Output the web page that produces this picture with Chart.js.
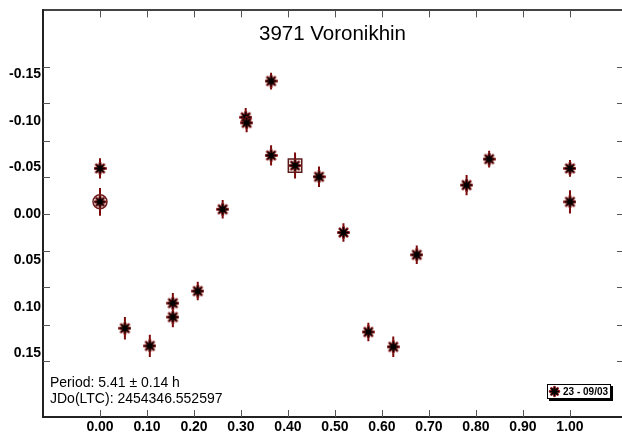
<!DOCTYPE html>
<html>
<head>
<meta charset="utf-8">
<script src="https://cdn.jsdelivr.net/npm/chart.js@4.4.0/dist/chart.umd.min.js"></script>
<style>
  html, body { margin: 0; padding: 0; background: #fff; overflow: hidden; }
  canvas { display: block; }
</style>
</head>
<body>
<canvas id="lcChart" width="622" height="435"></canvas>
<script>
var plotTitle = "3971 Voronikhin";
var periodText = "Period: 5.41 \u00b1 0.14 h";
var epochText = "JDo(LTC): 2454346.552597";
var sessionLabel = "23 - 09/03";

// phased lightcurve, session 23 (09/03)
var phase = [0.000, 0.000, 0.053, 0.106, 0.155, 0.155, 0.208, 0.261, 0.310, 0.312, 0.364,
             0.364, 0.415, 0.466, 0.518, 0.571, 0.624, 0.674, 0.780, 0.828, 1.000, 1.000];
var mag = [-0.049, -0.013, 0.123, 0.142, 0.096, 0.111, 0.083, -0.005, -0.104, -0.098, -0.143,
           -0.063, -0.052, -0.040, 0.020, 0.127, 0.143, 0.044, -0.031, -0.059, -0.049, -0.013];
var magErr = [0.011, 0.015, 0.012, 0.012, 0.011, 0.011, 0.010, 0.010, 0.010, 0.010, 0.009,
              0.011, 0.014, 0.011, 0.010, 0.010, 0.011, 0.010, 0.011, 0.009, 0.009, 0.0125];
var circledPoint = 1;
var boxedPoint = 12;

var xTicks = [0.0, 0.1, 0.2, 0.3, 0.4, 0.5, 0.6, 0.7, 0.8, 0.9, 1.0];
var yLabels = [-0.15, -0.10, -0.05, 0.00, 0.05, 0.10, 0.15];
var yTickMarks = [-0.158, -0.119, -0.079, -0.0395, 0, 0.0395, 0.079, 0.119, 0.158];

var FONT = 'Arial, "Liberation Sans", sans-serif';
var points = phase.map(function(p, i){ return {x: p, y: mag[i]}; });

// asterisk marker: dark red rim under a black star
function makeStar(size) {
  var c = document.createElement('canvas');
  c.width = 13; c.height = 13;
  var g = c.getContext('2d');
  function arms(r, w, col) {
    g.strokeStyle = col; g.lineWidth = w; g.lineCap = 'round';
    g.beginPath();
    for (var k = 0; k < 4; k++) {
      var ang = k * Math.PI / 4;
      g.moveTo(6.5 - r * Math.cos(ang), 6.5 - r * Math.sin(ang));
      g.lineTo(6.5 + r * Math.cos(ang), 6.5 + r * Math.sin(ang));
    }
    g.stroke();
  }
  arms(size, 2.8, '#8b1a1a');
  arms(size - 0.6, 1.6, '#000');
  g.fillStyle = '#000';
  g.beginPath(); g.arc(6.5, 6.5, size / 2, 0, Math.PI * 2); g.fill();
  return c;
}
var starImg = makeStar(5.2);
var keyStarImg = makeStar(4.4);

var errorBars = {
  id: 'errorBars',
  beforeDatasetsDraw: function(chart) {
    var ctx = chart.ctx, xs = chart.scales.x, ys = chart.scales.y;
    ctx.save();
    ctx.strokeStyle = '#7d0a0a';
    ctx.lineWidth = 2;
    ctx.beginPath();
    points.forEach(function(pt, i){
      var px = xs.getPixelForValue(pt.x);
      ctx.moveTo(px, ys.getPixelForValue(pt.y - magErr[i]));
      ctx.lineTo(px, ys.getPixelForValue(pt.y + magErr[i]));
    });
    ctx.stroke();
    ctx.restore();
  }
};

var frameTicks = {
  id: 'frameTicks',
  afterDatasetsDraw: function(chart) {
    var ctx = chart.ctx, a = chart.chartArea, xs = chart.scales.x, ys = chart.scales.y;
    ctx.save();
    ctx.strokeStyle = '#555';
    ctx.lineWidth = 1;
    ctx.beginPath();
    xTicks.forEach(function(v){
      var px = Math.round(xs.getPixelForValue(v)) + 0.5;
      ctx.moveTo(px, a.top); ctx.lineTo(px, a.top + 7);
      ctx.moveTo(px, a.bottom); ctx.lineTo(px, a.bottom - 7);
    });
    yTickMarks.forEach(function(v){
      var py = Math.round(ys.getPixelForValue(v)) + 0.5;
      ctx.moveTo(a.left, py); ctx.lineTo(a.left + 7, py);
      ctx.moveTo(a.right, py); ctx.lineTo(a.right - 5, py);
    });
    ctx.stroke();
    ctx.restore();
  }
};

var annotations = {
  id: 'annotations',
  afterDraw: function(chart) {
    var ctx = chart.ctx, a = chart.chartArea;
    ctx.save();
    ctx.fillStyle = '#000';
    ctx.textBaseline = 'middle';

    ctx.font = '20.5px ' + FONT;
    ctx.textAlign = 'center';
    ctx.fillText(plotTitle, (a.left + a.right) / 2, a.top + 24);

    ctx.font = '14px ' + FONT;
    ctx.textAlign = 'left';
    ctx.fillText(periodText, a.left + 7, a.bottom - 34);
    ctx.fillText(epochText, a.left + 7, a.bottom - 18);

    // session key with drop shadow
    var bx = a.right - 75, by = a.bottom - 33, bw = 64, bh = 15;
    ctx.fillStyle = '#000';
    ctx.fillRect(bx + 2, by + 2, bw, bh);
    ctx.fillStyle = '#fff';
    ctx.fillRect(bx, by, bw, bh);
    ctx.strokeStyle = '#000';
    ctx.lineWidth = 1;
    ctx.strokeRect(bx + 0.5, by + 0.5, bw - 1, bh - 1);
    ctx.drawImage(keyStarImg, bx + 1, by + 1);

    ctx.fillStyle = '#000';
    ctx.font = 'bold 10px ' + FONT;
    ctx.fillText(sessionLabel, bx + 16, by + 8);
    ctx.restore();
  }
};

var tickFont = {family: FONT, size: 14, weight: 'bold'};

new Chart(document.getElementById('lcChart').getContext('2d'), {
  type: 'scatter',
  data: {
    datasets: [
      {
        label: sessionLabel,
        data: points,
        pointStyle: starImg
      },
      {
        data: [points[circledPoint]],
        pointStyle: 'circle',
        radius: 7,
        borderWidth: 1.5,
        borderColor: '#6b1f1f',
        backgroundColor: 'rgba(0,0,0,0)'
      },
      {
        data: [points[boxedPoint]],
        pointStyle: 'rect',
        radius: 9.5,
        borderWidth: 1.5,
        borderColor: '#5a1a1a',
        backgroundColor: 'rgba(0,0,0,0)'
      }
    ]
  },
  options: {
    responsive: false,
    animation: false,
    events: [],
    layout: {padding: 0, autoPadding: false},
    plugins: {legend: {display: false}, tooltip: {enabled: false}},
    scales: {
      x: {
        type: 'linear',
        position: 'bottom',
        min: -0.1213,
        max: 1.1107,
        afterBuildTicks: function(axis){ axis.ticks = xTicks.map(function(v){ return {value: v}; }); },
        afterFit: function(axis){ axis.height = 18; },
        ticks: {
          font: tickFont,
          color: '#000',
          padding: 2,
          maxRotation: 0,
          autoSkip: false,
          callback: function(v){ return v.toFixed(2); }
        },
        grid: {display: false, drawTicks: false},
        border: {display: true, width: 2, color: '#222'}
      },
      xTop: {
        type: 'linear',
        position: 'top',
        min: -0.1213,
        max: 1.1107,
        afterFit: function(axis){ axis.height = 7; },
        ticks: {display: false},
        grid: {display: false, drawTicks: false},
        border: {display: true, width: 2, color: '#444'}
      },
      y: {
        type: 'linear',
        position: 'left',
        reverse: true,
        min: -0.219,
        max: 0.2185,
        afterBuildTicks: function(axis){ axis.ticks = yLabels.map(function(v){ return {value: v}; }); },
        afterFit: function(axis){ axis.width = 43; },
        ticks: {
          font: tickFont,
          color: '#000',
          padding: 2,
          autoSkip: false,
          callback: function(v){ return v.toFixed(2); }
        },
        grid: {display: false, drawTicks: false},
        border: {display: true, width: 2, color: '#222'}
      }
    }
  },
  plugins: [errorBars, frameTicks, annotations]
});
</script>
</body>
</html>
